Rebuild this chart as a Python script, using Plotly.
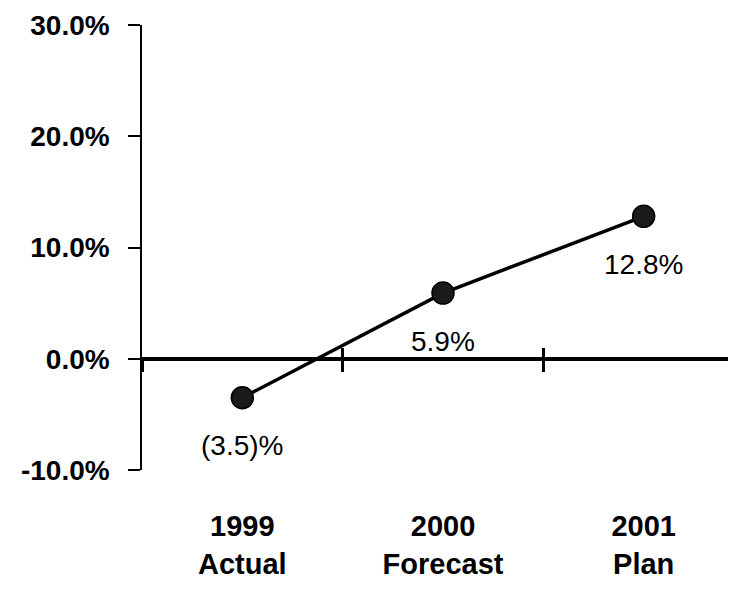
import plotly.graph_objects as go

categories = ["1999<br>Actual", "2000<br>Forecast", "2001<br>Plan"]
growth = [-3.5, 5.9, 12.8]
labels = ["(3.5)%", "5.9%", "12.8%"]
ytick_vals = [-10, 0, 10, 20, 30]
ytick_text = ["-10.0%", "0.0%", "10.0%", "20.0%", "30.0%"]

FONT = "Liberation Sans, Arial, sans-serif"

fig = go.Figure()
fig.add_trace(go.Scatter(
    x=categories, y=growth, mode="lines+markers",
    line=dict(color="black", width=3.5),
    marker=dict(size=22, color="#1a1a1a", line=dict(color="black", width=1.5)),
    showlegend=False, hoverinfo="skip",
))
# invisible traces to activate the zero-line category axes
fig.add_trace(go.Scatter(x=categories, y=growth, xaxis="x2", mode="none",
                         showlegend=False, hoverinfo="skip"))
fig.add_trace(go.Scatter(x=categories, y=growth, xaxis="x3", mode="none",
                         showlegend=False, hoverinfo="skip"))

for c, v, t in zip(categories, growth, labels):
    fig.add_annotation(x=c, y=v, text=t, showarrow=False, yshift=-48,
                       font=dict(family=FONT, size=28, color="black"))

fig.update_layout(
    width=736, height=593,
    margin=dict(l=134, r=0, t=17, b=131, autoexpand=False),
    paper_bgcolor="white", plot_bgcolor="white",
    font=dict(family=FONT, color="black"),
    xaxis=dict(
        type="category", range=[-0.5, 2.5], showline=False, showgrid=False,
        zeroline=False, ticks="", ticklabelstandoff=36, automargin=False,
        ticklabeloverflow="allow",
        tickfont=dict(family=FONT, size=29, color="black", weight="bold"),
    ),
    xaxis2=dict(
        type="category", range=[-0.5, 2.5], overlaying="x", anchor="free",
        position=0.25, showline=True, linecolor="black", linewidth=4,
        showgrid=False, zeroline=False, ticks="outside", tickson="boundaries",
        ticklen=11, tickwidth=2.5, tickcolor="black", showticklabels=False,
        automargin=False,
    ),
    xaxis3=dict(
        type="category", range=[-0.5, 2.5], overlaying="x", anchor="free",
        position=0.25, showline=False, showgrid=False, zeroline=False,
        ticks="inside", tickson="boundaries", ticklen=11, tickwidth=2.5,
        tickcolor="black", showticklabels=False, automargin=False,
    ),
    yaxis=dict(
        range=[-10, 30], tickvals=ytick_vals, ticktext=ytick_text,
        showline=True, linecolor="black", linewidth=1.5, showgrid=False,
        zeroline=False, ticks="outside", ticklen=12, tickwidth=1.5,
        tickcolor="black", ticklabelstandoff=13, automargin=False,
        ticklabeloverflow="allow",
        tickfont=dict(family=FONT, size=28, color="black", weight="bold"),
    ),
)

fig.write_html("out.html")
